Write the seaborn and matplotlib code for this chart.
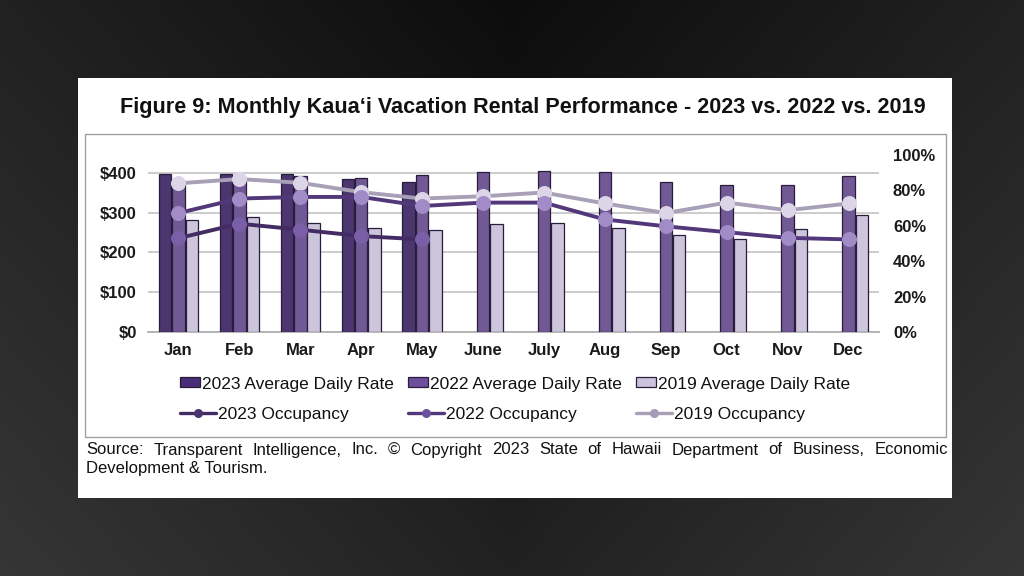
import numpy as np
import pandas as pd
import matplotlib
matplotlib.use("Agg")
import matplotlib.pyplot as plt
from matplotlib.patches import Rectangle, Patch
from matplotlib.lines import Line2D
from matplotlib.ticker import PercentFormatter
import seaborn as sns

months = ["Jan", "Feb", "Mar", "Apr", "May", "June", "July", "Aug", "Sep", "Oct", "Nov", "Dec"]
adr_2023 = [397, 397, 397, 385, 376, np.nan, np.nan, np.nan, np.nan, np.nan, np.nan, np.nan]
adr_2022 = [375, 382, 391, 387, 395, 402, 406, 402, 377, 370, 370, 391]
adr_2019 = [282, 288, 273, 262, 257, 271, 273, 262, 244, 233, 258, 294]
occ_2023 = [0.53, 0.612, 0.578, 0.542, 0.523, np.nan, np.nan, np.nan, np.nan, np.nan, np.nan, np.nan]
occ_2022 = [0.672, 0.754, 0.763, 0.763, 0.712, 0.731, 0.731, 0.636, 0.597, 0.564, 0.532, 0.523]
occ_2019 = [0.84, 0.864, 0.843, 0.79, 0.754, 0.767, 0.788, 0.726, 0.672, 0.731, 0.688, 0.726]
bar_labels = ["2023 Average Daily Rate", "2022 Average Daily Rate", "2019 Average Daily Rate"]
occ_labels = ["2023 Occupancy", "2022 Occupancy", "2019 Occupancy"]
title = "Figure 9: Monthly Kaua\u2018i Vacation Rental Performance - 2023 vs. 2022 vs. 2019"
source_line1 = "Source: Transparent Intelligence, Inc. \u00a9 Copyright 2023 State of Hawaii Department of Business, Economic"
source_line2 = "Development & Tourism."

W, H = 1024, 576
bar_colors = ["#4a2d78", "#6e4f9e", "#cbc2de"]
line_colors = ["#432c63", "#52387a", "#a7a0b6"]
marker_colors = ["#7a5fa8", "#a28cc8", "#dcd5e8"]
legend_marker_colors = ["#4a3470", "#6a52a0", "#a39cb6"]

sns.set_theme(style="white")
plt.rcParams["font.family"] = ["Liberation Sans", "DejaVu Sans"]

fig = plt.figure(figsize=(W / 100, H / 100), dpi=100)

# background gradient
bg = fig.add_axes([0, 0, 1, 1])
yy, xx = np.mgrid[0:1:200j, 0:1:360j]
val = 0.05 + 0.08 * yy + 0.08 * np.abs(xx - 0.5) * 2
img = np.dstack([val, val, val])
bg.imshow(img, extent=[0, 1, 0, 1], aspect="auto", origin="upper")
bg.set_xlim(0, 1)
bg.set_ylim(0, 1)
bg.axis("off")

def fx(px):
    return px / W

def fy(py):
    return 1 - py / H

bg.add_patch(Rectangle((fx(78), fy(498)), fx(952) - fx(78), fy(78) - fy(498),
                       facecolor="white", edgecolor="none", zorder=2))
bg.add_patch(Rectangle((fx(85), fy(437)), fx(946) - fx(85), fy(134) - fy(437),
                       facecolor="none", edgecolor="#a0a0a0", lw=1.0, zorder=3))

# main axes
ax = fig.add_axes([fx(148), fy(332), fx(879) - fx(148), fy(155) - fy(332)])
ax.set_facecolor("none")

df = pd.DataFrame({
    "Month": months * 3,
    "ADR": adr_2023 + adr_2022 + adr_2019,
    "Series": [bar_labels[0]] * 12 + [bar_labels[1]] * 12 + [bar_labels[2]] * 12,
})
sns.barplot(data=df, x="Month", y="ADR", hue="Series", hue_order=bar_labels,
            palette=bar_colors, width=0.66, gap=0.07, errorbar=None,
            edgecolor="#2a1d3c", linewidth=0.9, ax=ax, legend=False, zorder=3)

ax.set_xlim(-0.5, 11.5)
ax.set_ylim(0, 445)
ax.set_yticks([0, 100, 200, 300, 400])
ax.set_yticklabels(["$0", "$100", "$200", "$300", "$400"])
ax.yaxis.grid(True, color="#c8c8c8", lw=1.3, zorder=0)
ax.set_axisbelow(True)
ax.set_xlabel("")
ax.set_ylabel("")
for s in ["left", "right", "top"]:
    ax.spines[s].set_visible(False)
ax.spines["bottom"].set_color("#b0b0b0")
ax.spines["bottom"].set_linewidth(1.3)
ax.tick_params(axis="both", length=0)
ax.tick_params(axis="y", pad=8)
ax.tick_params(axis="x", pad=8)
for lab in ax.get_xticklabels() + ax.get_yticklabels():
    lab.set_fontsize(12)
    lab.set_fontweight("bold")
    lab.set_color("#1a1a1a")

ax2 = ax.twinx()
x = np.arange(12)
for vals, lc, mc in zip([occ_2019, occ_2022, occ_2023], line_colors[::-1], marker_colors[::-1]):
    sns.lineplot(x=x, y=vals, ax=ax2, color=lc, lw=2.8, marker="o", markersize=10,
                 markerfacecolor=mc, markeredgecolor=mc, legend=False, zorder=5)
ax2.set_ylim(0, 1)
ax2.set_yticks(np.arange(0, 1.01, 0.2))
ax2.yaxis.set_major_formatter(PercentFormatter(1.0, decimals=0))
for s in ["left", "right", "top", "bottom"]:
    ax2.spines[s].set_visible(False)
ax2.tick_params(axis="y", length=0, pad=10)
ax2.set_ylabel("")
ax2.grid(False)
for lab in ax2.get_yticklabels():
    lab.set_fontsize(12)
    lab.set_fontweight("bold")
    lab.set_color("#1a1a1a")

# legends (two rows, as in the original)
bar_handles = [Patch(facecolor=bar_colors[i], edgecolor="#2a1d3c", lw=0.9, label=bar_labels[i])
               for i in range(3)]
line_handles = [Line2D([], [], color=line_colors[i], lw=2.4, marker="o", markersize=6.5,
                       markerfacecolor=legend_marker_colors[i], markeredgecolor="none",
                       label=occ_labels[i]) for i in range(3)]
leg_fs = 12.5
leg1 = fig.legend(handles=bar_handles, ncol=3, loc="center left",
                  bbox_to_anchor=(fx(180), fy(384)), frameon=False, borderpad=0,
                  borderaxespad=0, handlelength=1.15, handleheight=0.5,
                  handletextpad=0.12, columnspacing=0.8, prop={"size": leg_fs})
leg2 = fig.legend(handles=line_handles, ncol=3, loc="center left",
                  bbox_to_anchor=(fx(180), fy(414)), frameon=False, borderpad=0,
                  borderaxespad=0, handlelength=2.07, handletextpad=0.12,
                  columnspacing=3.4, prop={"size": leg_fs})
for lg in (leg1, leg2):
    for t in lg.get_texts():
        t.set_color("#111111")

# title
fig.text(fx(523), fy(108), title, ha="center", va="center", fontsize=15.6,
         fontweight="bold", color="#111111")

# justified source text
fig.canvas.draw()
renderer = fig.canvas.get_renderer()
words = source_line1.split(" ")
src_kw = dict(fontsize=12, color="#111111", va="center", ha="left")
objs = [fig.text(0, fy(450), w, **src_kw) for w in words]
widths = [o.get_window_extent(renderer=renderer).width for o in objs]
x0, x1 = 86, 948
gap = (x1 - x0 - sum(widths)) / (len(words) - 1)
cur = x0
for o, wdt in zip(objs, widths):
    o.set_x(fx(cur))
    cur += wdt + gap
fig.text(fx(86), fy(468), source_line2, **src_kw)

fig.savefig("out.png", dpi=100)
